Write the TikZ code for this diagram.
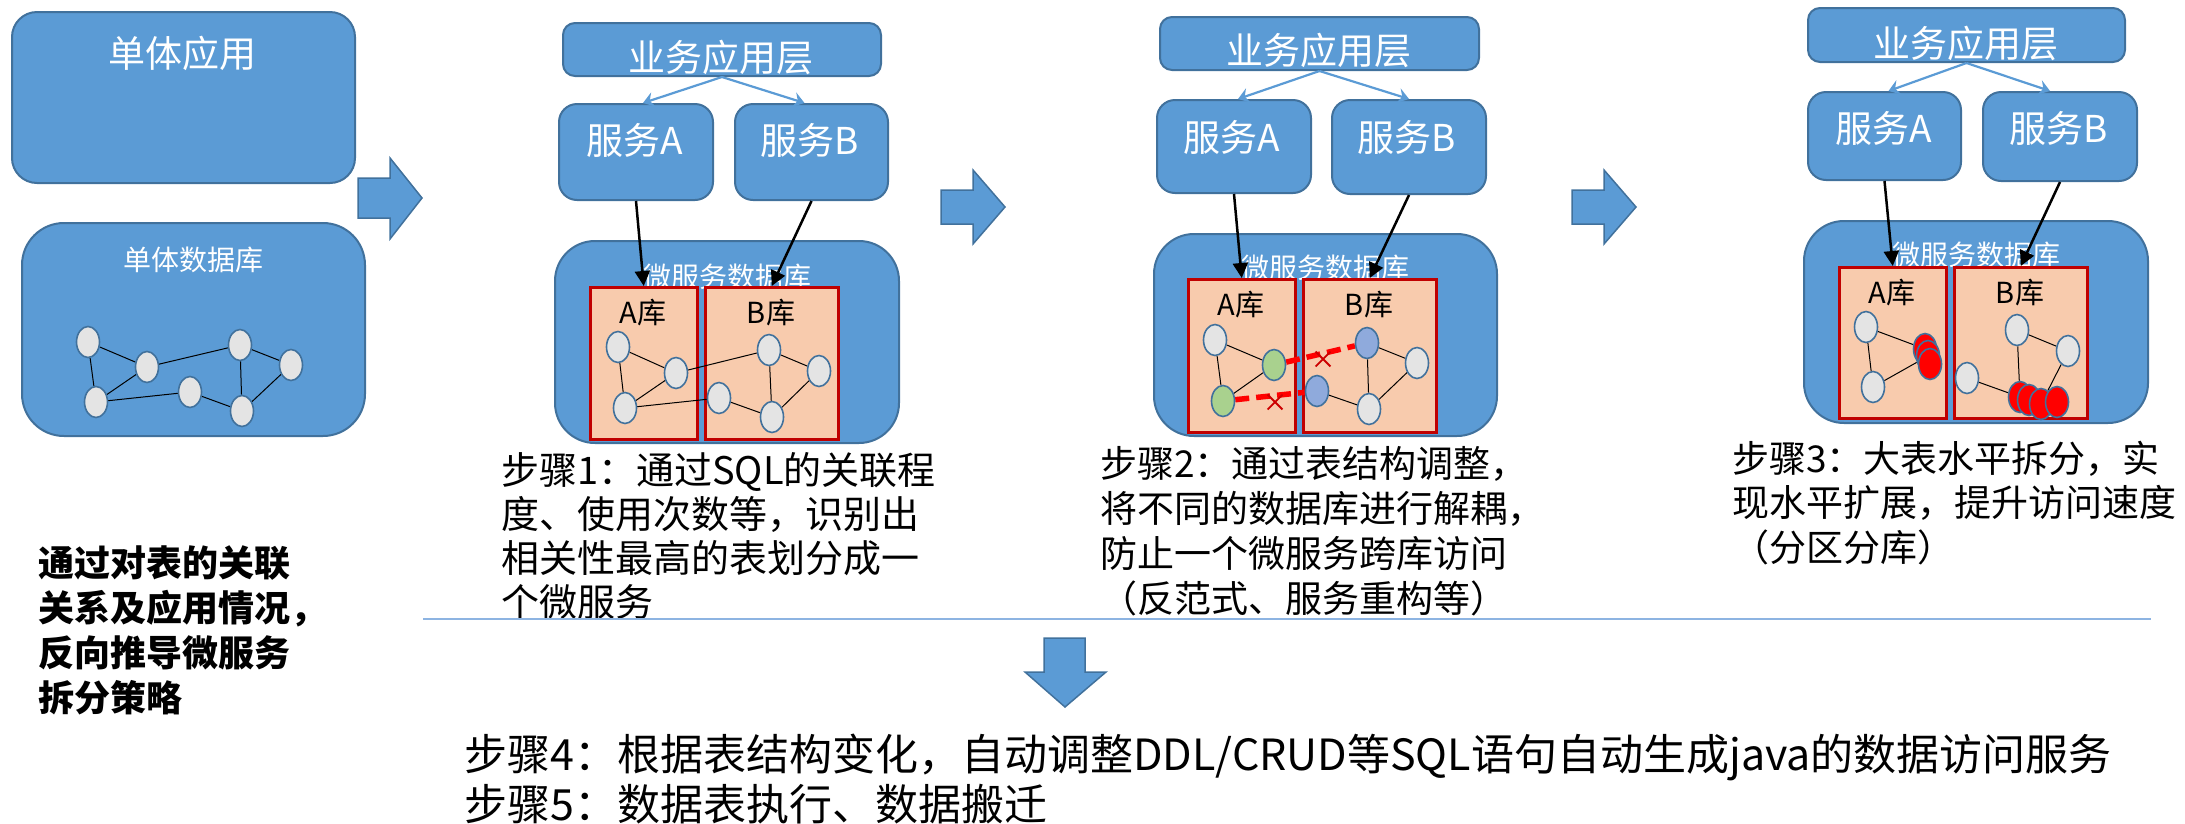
\documentclass[tikz,border=0pt]{standalone}
\usepackage{fontspec}
\setmainfont{Noto Sans CJK SC}
\usetikzlibrary{shapes.geometric,shapes.misc,arrows.meta}
\definecolor{boxblue}{HTML}{5B9BD5}
\definecolor{bdr}{HTML}{41719C}
\definecolor{dbfill}{HTML}{F8CBAD}
\definecolor{dbline}{HTML}{C00000}
\definecolor{gnodefill}{HTML}{E4E4E4}
\definecolor{greenfill}{HTML}{A9D18E}
\definecolor{bluefill}{HTML}{8FAADC}
\definecolor{sepline}{HTML}{8DB4E2}
\pgfdeclarelayer{boxes}
\pgfdeclarelayer{edges}
\pgfsetlayers{boxes,edges,main}
\begin{document}
\begin{tikzpicture}[x=1pt,y=-1pt,
  bbox/.style={draw=bdr, fill=boxblue, line width=2pt, anchor=north west, inner sep=0},
  dbbox/.style={draw=dbline, fill=dbfill, line width=2.5pt, anchor=north west, inner sep=0},
  wtext/.style={text=white, inner sep=0},
  btext/.style={text=black, inner sep=0},
  gnode/.style={ellipse, draw=bdr, fill=gnodefill, line width=1.6pt, minimum width=23pt, minimum height=31pt, inner sep=0},
  gnodeg/.style={gnode, fill=greenfill},
  gnodeb/.style={gnode, fill=bluefill},
  gnoder/.style={gnode, fill=red},
  gedge/.style={black, line width=1pt},
  thinarrow/.style={draw=boxblue, line width=2.2pt, -{Stealth[length=11pt,width=15pt,inset=4pt]}},
  blkarrow/.style={black, line width=2.5pt, -{Triangle[length=15pt,width=15pt]}},
  reddash/.style={red, line width=5.5pt, dash pattern=on 14pt off 7pt},
  xmark/.style={cross out, draw=red!80!black, line width=1.8pt, minimum size=13pt, inner sep=0},
  blockarrow/.style={fill=boxblue, draw=bdr, line width=1.5pt},
  linetext/.style={anchor=base west, inner sep=0},
  f37/.style={font=\fontsize{37}{44}\selectfont},
  f28/.style={font=\fontsize{28}{34}\selectfont},
  f29/.style={font=\fontsize{29}{35}\selectfont}
]
\useasboundingbox (0,0) rectangle (2185,823);

% ---------------- monolith ----------------
\begin{pgfonlayer}{boxes}
\node[bbox, rounded corners=25pt, minimum width=343pt, minimum height=171pt] (mono) at (11,11) {};
\node[bbox, rounded corners=42pt, minimum width=343pt, minimum height=213pt] (monodb) at (21,222) {};
\end{pgfonlayer}
\node[wtext, f37] (monot) at (182,53) {单体应用};
\node[wtext, f28] (monodbt) at (193,260) {单体数据库};
\node[gnode] (m1) at (88,342) {};
\node[gnode] (m2) at (147,367) {};
\node[gnode] (m3) at (96,402) {};
\node[gnode] (m4) at (190,392) {};
\node[gnode] (m5) at (240,345) {};
\node[gnode] (m6) at (291,365) {};
\node[gnode] (m7) at (242,411) {};
\begin{pgfonlayer}{edges}
\draw[gedge] (m1)--(m2) (m1)--(m3) (m2)--(m3) (m2)--(m5) (m3)--(m4) (m4)--(m7) (m5)--(m7) (m5)--(m6) (m6)--(m7);
\end{pgfonlayer}

% block arrows
\draw[blockarrow] (358,178) -- (390,178) -- (390,158) -- (422,198) -- (390,239) -- (390,218) -- (358,218) -- cycle;
\draw[blockarrow] (941,190) -- (973,190) -- (973,170) -- (1005,207) -- (973,244) -- (973,224) -- (941,224) -- cycle;
\draw[blockarrow] (1572,190) -- (1604,190) -- (1604,170) -- (1636,207) -- (1604,244) -- (1604,224) -- (1572,224) -- cycle;

% ---------------- stage 1 ----------------
\begin{pgfonlayer}{boxes}
\node[bbox, rounded corners=12pt, minimum width=318pt, minimum height=53pt] (top1) at (562,22) {};
\node[bbox, rounded corners=18pt, minimum width=154pt, minimum height=96pt] (svcA1) at (558,103) {};
\node[bbox, rounded corners=18pt, minimum width=153pt, minimum height=96pt] (svcB1) at (734,103) {};
\node[bbox, rounded corners=40pt, minimum width=344pt, minimum height=202pt] (db1) at (554,240) {};
\node[wtext, f28] (db1t) at (727,277) {微服务数据库};
\node[dbbox, minimum width=107pt, minimum height=152pt] (A1) at (589,286) {};
\node[dbbox, minimum width=133pt, minimum height=152pt] (B1) at (704,286) {};
\end{pgfonlayer}
\node[wtext, f37] (top1t) at (721,57) {业务应用层};
\node[wtext, f37] (svcA1t) at (635,140) {服务A};
\node[wtext, f37] (svcB1t) at (810,140) {服务B};
\node[btext, f29] (A1t) at (643,313) {A库};
\node[btext, f29] (B1t) at (771,313) {B库};
\node[gnode] (p1a1) at (618,347) {};
\node[gnode] (p1a2) at (676,373) {};
\node[gnode] (p1a3) at (625,408) {};
\node[gnode] (p1b1) at (719,398) {};
\node[gnode] (p1b2) at (769,350) {};
\node[gnode] (p1b3) at (819,371) {};
\node[gnode] (p1b4) at (772,417) {};
\begin{pgfonlayer}{edges}
\draw[gedge] (p1a1)--(p1a2) (p1a1)--(p1a3) (p1a2)--(p1a3) (p1a2)--(p1b2) (p1a3)--(p1b1) (p1b1)--(p1b4) (p1b2)--(p1b4) (p1b2)--(p1b3) (p1b3)--(p1b4);
\end{pgfonlayer}
\draw[thinarrow] (top1.south) -- ([xshift=7pt]svcA1.north);
\draw[thinarrow] (top1.south) -- ([xshift=-7pt]svcB1.north);
\draw[blkarrow] (svcA1.south) -- (A1.north);
\draw[blkarrow] (svcB1.south) -- (B1.north);

% ---------------- stage 2 ----------------
\begin{pgfonlayer}{boxes}
\node[bbox, rounded corners=12pt, minimum width=319pt, minimum height=53pt] (top2) at (1159,16) {};
\node[bbox, rounded corners=18pt, minimum width=154pt, minimum height=93pt] (svcA2) at (1156,99) {};
\node[bbox, rounded corners=18pt, minimum width=154pt, minimum height=94pt] (svcB2) at (1331,99) {};
\node[bbox, rounded corners=40pt, minimum width=343pt, minimum height=202pt] (db2) at (1153,233) {};
\node[wtext, f28] (db2t) at (1325,268) {微服务数据库};
\node[dbbox, minimum width=107pt, minimum height=153pt] (A2) at (1187,278) {};
\node[dbbox, minimum width=133pt, minimum height=153pt] (B2) at (1302,278) {};
\end{pgfonlayer}
\node[wtext, f37] (top2t) at (1319,50) {业务应用层};
\node[wtext, f37] (svcA2t) at (1232,137) {服务A};
\node[wtext, f37] (svcB2t) at (1407,137) {服务B};
\node[btext, f29] (A2t) at (1241,305) {A库};
\node[btext, f29] (B2t) at (1369,305) {B库};
\node[gnode]  (p2a1) at (1215,340) {};
\node[gnodeg] (p2a2) at (1274,365) {};
\node[gnodeg] (p2a3) at (1223,401) {};
\node[gnodeb] (p2b1) at (1317,391) {};
\node[gnodeb] (p2b2) at (1367,343) {};
\node[gnode]  (p2b3) at (1417,363) {};
\node[gnode]  (p2b4) at (1369,409) {};
\begin{pgfonlayer}{edges}
\draw[gedge] (p2a1)--(p2a2) (p2a1)--(p2a3) (p2a2)--(p2a3) (p2b1)--(p2b4) (p2b2)--(p2b4) (p2b2)--(p2b3) (p2b3)--(p2b4);
\draw[reddash] (p2a2) -- (p2b2);
\draw[reddash] (p2a3) -- (p2b1);
\end{pgfonlayer}
\node[xmark] (x1) at (1323,359) {};
\node[xmark] (x2) at (1275,402) {};
\draw[thinarrow] (top2.south) -- ([xshift=4pt]svcA2.north);
\draw[thinarrow] (top2.south) -- (svcB2.north);
\draw[blkarrow] (svcA2.south) -- (A2.north);
\draw[blkarrow] (svcB2.south) -- (B2.north);

% ---------------- stage 3 ----------------
\begin{pgfonlayer}{boxes}
\node[bbox, rounded corners=12pt, minimum width=317pt, minimum height=54pt] (top3) at (1807,7) {};
\node[bbox, rounded corners=18pt, minimum width=153pt, minimum height=88pt] (svcA3) at (1807,91) {};
\node[bbox, rounded corners=18pt, minimum width=154pt, minimum height=89pt] (svcB3) at (1982,91) {};
\node[bbox, rounded corners=40pt, minimum width=344pt, minimum height=202pt] (db3) at (1803,220) {};
\node[wtext, f28] (db3t) at (1976,255) {微服务数据库};
\node[dbbox, minimum width=107pt, minimum height=151pt] (A3) at (1838,266) {};
\node[dbbox, minimum width=133pt, minimum height=151pt] (B3) at (1953,266) {};
\end{pgfonlayer}
\node[wtext, f37] (top3t) at (1966,43) {业务应用层};
\node[wtext, f37] (svcA3t) at (1884,128) {服务A};
\node[wtext, f37] (svcB3t) at (2059,128) {服务B};
\node[btext, f29] (A3t) at (1892,293) {A库};
\node[btext, f29] (B3t) at (2020,293) {B库};
\node[gnode]  (p3a1) at (1866,327) {};
\node[gnode]  (p3a3) at (1873,387) {};
\node[gnoder] (p3r1) at (1925,349) {};
\node[gnoder] (p3r2) at (1928,356) {};
\node[gnoder] (p3r3) at (1930,364) {};
\node[gnode]  (p3b1) at (1967,378) {};
\node[gnode]  (p3b2) at (2017,330) {};
\node[gnode]  (p3b3) at (2068,351) {};
\node[gnoder] (p3s1) at (2020,397) {};
\node[gnoder] (p3s2) at (2029,400) {};
\node[gnoder] (p3s3) at (2041,404) {};
\node[gnoder] (p3s4) at (2057,402) {};
\begin{pgfonlayer}{edges}
\draw[gedge] (p3a1)--(p3r1) (p3a1)--(p3a3) (p3a3)--(p3r2) (p3b1)--(p3s1) (p3b2)--(p3s1) (p3b2)--(p3b3) (p3b3)--(p3s3);
\end{pgfonlayer}
\draw[thinarrow] (top3.south) -- ([xshift=4pt]svcA3.north);
\draw[thinarrow] (top3.south) -- ([xshift=-10pt]svcB3.north);
\draw[blkarrow] (svcA3.south) -- (A3.north);
\draw[blkarrow] (svcB3.south) -- (B3.north);

% ---------------- step texts ----------------
\begin{scope}[font=\fontsize{38}{44}\selectfont]
\node[linetext] (s1l1) at (501,484) {步骤1：通过SQL的关联程};
\node[linetext] (s1l2) at (501,528) {度、使用次数等，识别出};
\node[linetext] (s1l3) at (501,572) {相关性最高的表划分成一};
\node[linetext] (s1l4) at (501,616) {个微服务};
\end{scope}
\begin{scope}[font=\fontsize{37}{44}\selectfont]
\node[linetext] (s2l1) at (1100,477) {步骤2：通过表结构调整，};
\node[linetext] (s2l2) at (1100,522) {将不同的数据库进行解耦，};
\node[linetext] (s2l3) at (1100,567) {防止一个微服务跨库访问};
\node[linetext] (s2l4) at (1100,612) {（反范式、服务重构等）};
\node[linetext] (s3l1) at (1732,472) {步骤3：大表水平拆分，实};
\node[linetext] (s3l2) at (1732,516) {现水平扩展，提升访问速度};
\node[linetext] (s3l3) at (1732,561) {（分区分库）};
\end{scope}
\begin{scope}[font=\fontsize{36}{44}\selectfont\bfseries]
\node[linetext] (bl1) at (38,576) {通过对表的关联};
\node[linetext] (bl2) at (38,621) {关系及应用情况，};
\node[linetext] (bl3) at (38,666) {反向推导微服务};
\node[linetext] (bl4) at (38,711) {拆分策略};
\end{scope}

\draw[sepline, line width=1.5pt] (423,619) -- (2151,619);

\draw[blockarrow] (1044,638) -- (1085,638) -- (1085,672) -- (1106,672) -- (1065,707) -- (1025,672) -- (1044,672) -- cycle;

\begin{scope}[font=\fontsize{43}{51}\selectfont]
\node[linetext] (s4) at (464,770) {步骤4：根据表结构变化，自动调整DDL/CRUD等SQL语句自动生成java的数据访问服务};
\node[linetext] (s5) at (464,820) {步骤5：数据表执行、数据搬迁};
\end{scope}
\end{tikzpicture}
\end{document}
